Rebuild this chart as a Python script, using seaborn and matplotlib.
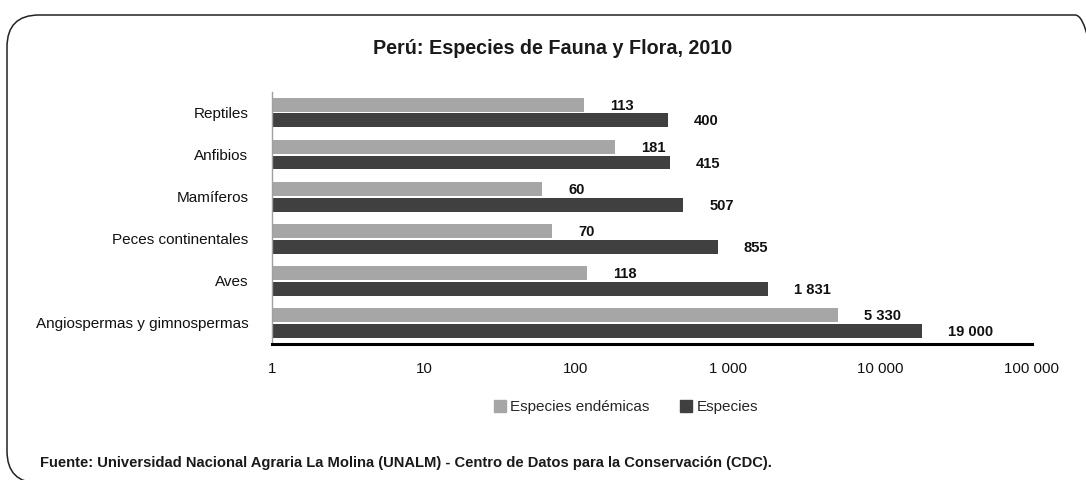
import matplotlib
matplotlib.use("Agg")
import matplotlib.pyplot as plt
from matplotlib.patches import FancyBboxPatch
from matplotlib.ticker import FixedLocator, NullLocator
import seaborn as sns
import pandas as pd

grupos = ['Reptiles', 'Anfibios', 'Mamíferos', 'Peces continentales', 'Aves',
          'Angiospermas y gimnospermas']
endemicas = [113, 181, 60, 70, 118, 5330]
especies = [400, 415, 507, 855, 1831, 19000]
series = ['Especies endémicas', 'Especies']
colores = ['#a6a6a6', '#404040']
xticks = [1, 10, 100, 1000, 10000, 100000]

def fmt(v):
    return f"{int(v):,}".replace(",", " ")

df = pd.DataFrame({
    'grupo': grupos * 2,
    'valor': endemicas + especies,
    'tipo': [series[0]] * len(grupos) + [series[1]] * len(grupos),
})

sns.set_style('white')
plt.rcParams['font.family'] = ['Liberation Sans', 'DejaVu Sans']
plt.rcParams['font.size'] = 11

fig = plt.figure(figsize=(10.86, 4.8), dpi=100)
ax = fig.add_axes([272 / 1086, 1 - 344 / 480, 760 / 1086, (344 - 91.5) / 480])

sns.barplot(data=df, y='grupo', x='valor', hue='tipo', hue_order=series,
            palette=colores, width=0.75, gap=0.12, ax=ax, legend=False,
            edgecolor='none', linewidth=0)
ax.set_xscale('log')
ax.set_xlim(1, 100000)
ax.set_ylim(5.5, -0.5)
ax.xaxis.set_major_locator(FixedLocator(xticks))
ax.xaxis.set_minor_locator(NullLocator())
ax.set_xticklabels([fmt(t) for t in xticks])
ax.set_xlabel('')
ax.set_ylabel('')
ax.tick_params(axis='both', length=0, colors='#111111')
ax.tick_params(axis='x', labelsize=10.8, pad=13)
ax.tick_params(axis='y', labelsize=11, pad=17)

for s in ['top', 'right']:
    ax.spines[s].set_visible(False)
ax.spines['left'].set_color('#a0a0a0')
ax.spines['left'].set_linewidth(1.0)
ax.spines['bottom'].set_color('black')
ax.spines['bottom'].set_linewidth(2.2)

for cont in ax.containers:
    for bar in cont:
        v = bar.get_width()
        yc = bar.get_y() + bar.get_height() / 2
        ax.annotate(fmt(v), xy=(v, yc), xytext=(26, -1), textcoords='offset pixels',
                    ha='left', va='center', fontsize=10.6, fontweight='bold', color='#111111')

fig.text(553 / 1086, 1 - 48 / 480, 'Perú: Especies de Fauna y Flora, 2010',
         ha='center', va='center', fontsize=14.2, fontweight='bold', color='#1a1a1a')

handles = [plt.Rectangle((0, 0), 1, 1, color=c) for c in colores]
fig.legend(handles, series, loc='center', bbox_to_anchor=(626 / 1086, 1 - 407 / 480),
           ncol=2, frameon=False, fontsize=11, handlelength=0.8, handleheight=0.8,
           handletextpad=0.25, columnspacing=2.0)

fig.text(40 / 1086, 1 - 463 / 480,
         'Fuente: Universidad Nacional Agraria La Molina (UNALM) - Centro de Datos para la Conservación (CDC).',
         ha='left', va='center', fontsize=10.6, fontweight='bold', color='#1a1a1a')

box = FancyBboxPatch((0.07, -0.03), 11.0, 4.68, boxstyle='round,pad=0,rounding_size=0.32',
                     transform=fig.dpi_scale_trans, fill=False, edgecolor='#222222',
                     linewidth=1.1, clip_on=False)
fig.patches.append(box)

fig.savefig('out.png', dpi=100)
